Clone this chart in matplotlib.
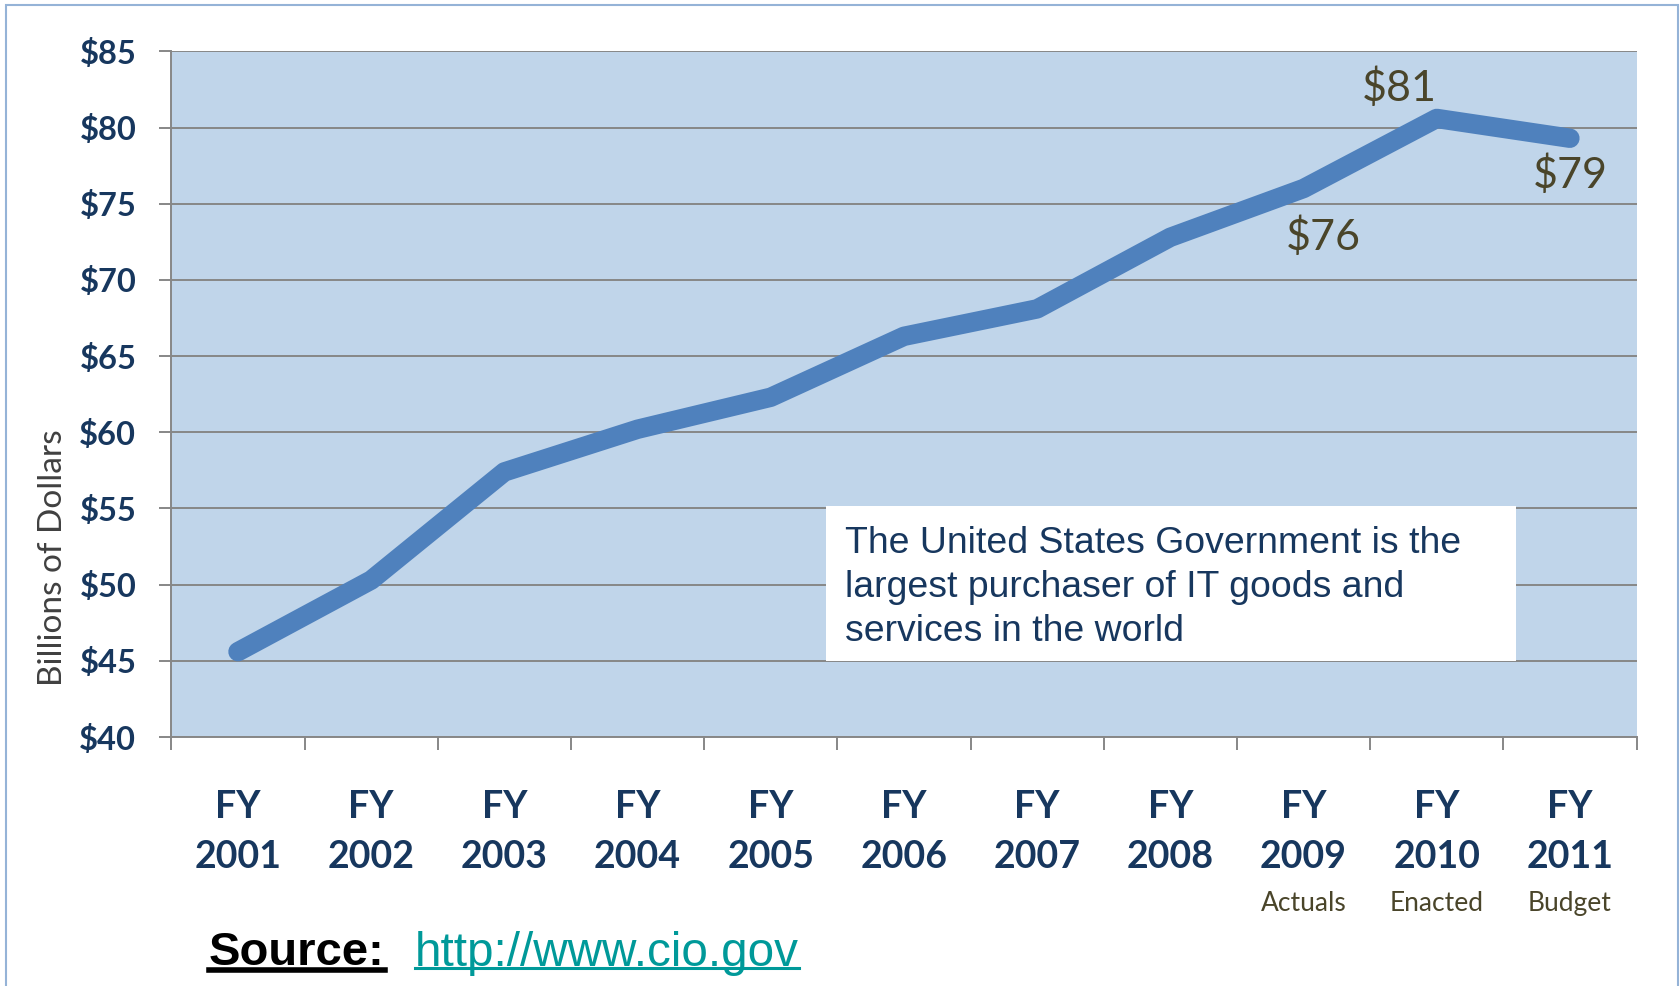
import matplotlib
matplotlib.use("Agg")
import matplotlib.pyplot as plt
from matplotlib.patches import Rectangle
from matplotlib.lines import Line2D

# --------- DATA ---------
YEARS = ["2001", "2002", "2003", "2004", "2005", "2006",
         "2007", "2008", "2009", "2010", "2011"]
SPENDING = [45.6, 50.3, 57.4, 60.2, 62.3, 66.3, 68.1, 72.8, 76.0, 80.6, 79.3]
Y_TICKS = [40, 45, 50, 55, 60, 65, 70, 75, 80, 85]
SUB_LABELS = {8: "Actuals", 9: "Enacted", 10: "Budget"}
VALUE_LABELS = {8: "$76", 9: "$81", 10: "$79"}
NOTE = "The United States Government is the\nlargest purchaser of IT goods and\nservices in the world"

# --------- STYLE ---------
plt.rcParams['font.family'] = ['Lato', 'DejaVu Sans']
NAVY = "#17375E"
OLIVE = "#4A452A"
GRID = "#878787"
LINE = "#4F81BD"

W, H = 1680, 986
fig = plt.figure(figsize=(W / 100, H / 100), dpi=100)
ax = fig.add_axes([171.4 / W, (H - 737) / H, (1636.5 - 171.4) / W, (737 - 51.4) / H])
ax.set_facecolor("#C0D5EA")

x = list(range(len(YEARS)))
ax.plot(x, SPENDING, color=LINE, lw=14, solid_capstyle="round",
        solid_joinstyle="round", zorder=4)

ax.set_xlim(-0.5, len(YEARS) - 0.5)
ax.set_ylim(Y_TICKS[0], Y_TICKS[-1])

# y axis
ax.set_yticks(Y_TICKS)
ax.set_yticklabels([f"${v}" for v in Y_TICKS], fontweight="bold")
ax.tick_params(axis="y", length=8.3, width=1.4, color=GRID, pad=17,
               labelsize=23.5, labelcolor=NAVY)
ax.yaxis.grid(True, color=GRID, lw=1.4)
ax.set_axisbelow(True)

# x axis: marks at boundaries, labels at centers
ax.set_xticks([i - 0.5 for i in range(len(YEARS) + 1)])
ax.set_xticklabels([])
ax.set_xticks(x, minor=True)
ax.set_xticklabels([f"FY\n{y}" for y in YEARS], minor=True,
                   fontweight="bold", linespacing=1.57)
ax.tick_params(axis="x", which="major", length=9.4, width=1.4, color=GRID)
ax.tick_params(axis="x", which="minor", length=0, pad=38,
               labelsize=27, labelcolor=NAVY)

for s in ["top", "right"]:
    ax.spines[s].set_visible(False)
for s in ["left", "bottom"]:
    ax.spines[s].set_color(GRID)
    ax.spines[s].set_linewidth(1.4)

# sub labels under the last years
for i, txt in SUB_LABELS.items():
    ax.annotate(txt, (i, 0), xycoords=("data", "axes fraction"),
                xytext=(0, -120), textcoords="offset points",
                ha="center", va="center", fontsize=19, color=OLIVE)

# value labels
offsets = {8: (14, -35), 9: (-27, 22), 10: (0, -26)}
for i, txt in VALUE_LABELS.items():
    ax.annotate(txt, (i, SPENDING[i]), xytext=offsets[i],
                textcoords="offset points", ha="center", va="center",
                fontsize=31, color=OLIVE, zorder=5)

ax.text(-0.081, 0.261, "Billions of Dollars", transform=ax.transAxes,
        rotation=90, ha="center", va="center", fontsize=24, color="#404040")

# note box
ax.add_patch(Rectangle((0.447, 0.111), 0.471, 0.226, transform=ax.transAxes,
                       facecolor="white", edgecolor="none", zorder=3))
ax.text(0.460, 0.218, NOTE, transform=ax.transAxes, ha="left", va="center",
        fontsize=26.9, family=["Liberation Sans", "DejaVu Sans"],
        color=NAVY, linespacing=1.35, zorder=4)

# source
src = fig.text(209 / W, 1 - 953 / H, "Source:", fontsize=34, fontweight="bold",
               family=["Liberation Sans", "DejaVu Sans"], color="black",
               ha="left", va="center")
link = fig.text(415 / W, 1 - 953 / H, "http://www.cio.gov", fontsize=34.3,
                family=["Liberation Sans", "DejaVu Sans"], color="#009999",
                ha="left", va="center")

fig.canvas.draw()
r = fig.canvas.get_renderer()
for t, yy, lw, col in [(src, 970, 4, "black"), (link, 967.5, 2.2, "#009999")]:
    bb = t.get_window_extent(r)
    fig.add_artist(Line2D([bb.x0 / W, bb.x1 / W], [1 - yy / H, 1 - yy / H],
                          transform=fig.transFigure, color=col, lw=lw))

# outer frame
fig.add_artist(Rectangle((6 / W, -0.1), (1678 - 6) / W, 1.1 - 5 / H,
                         transform=fig.transFigure, fill=False,
                         edgecolor="#95B3D7", lw=1.5))

fig.savefig("out.png", dpi=100)
plt.close(fig)
